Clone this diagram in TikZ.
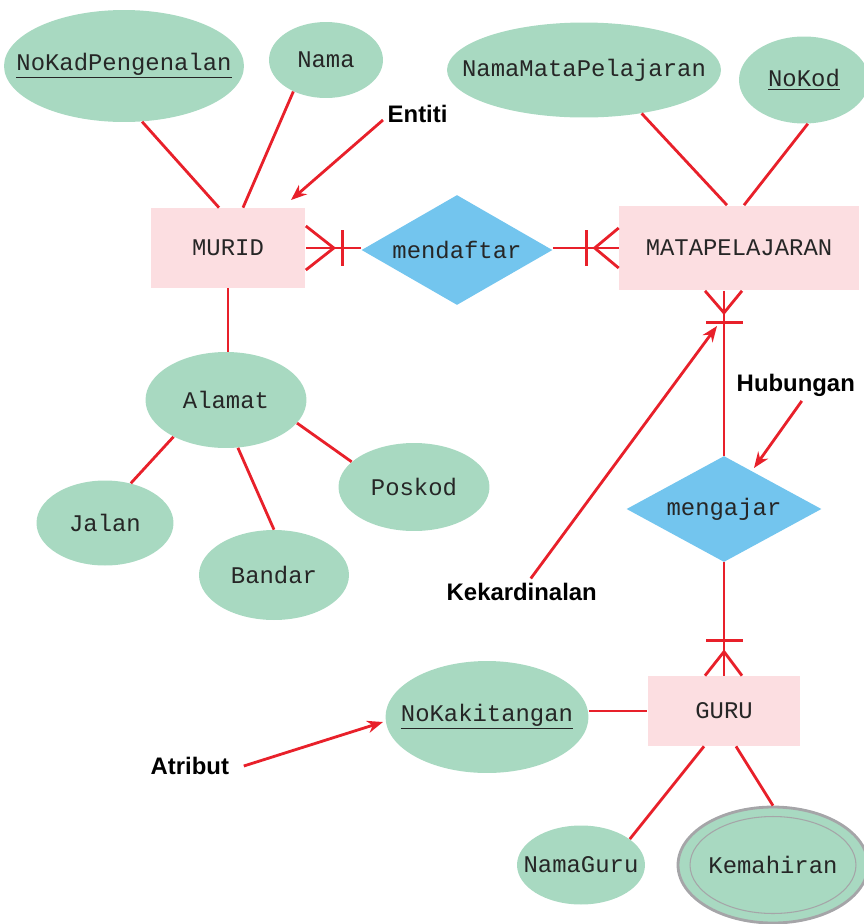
\documentclass[tikz,border=0pt]{standalone}
\usepackage{fontspec}
\setmainfont{Liberation Sans}
\setmonofont{Liberation Mono}
\usetikzlibrary{shapes.geometric,arrows.meta}

\definecolor{attrgreen}{RGB}{168,217,193}
\definecolor{entpink}{RGB}{252,222,225}
\definecolor{relblue}{RGB}{115,197,238}
\definecolor{linkred}{RGB}{232,32,42}
\definecolor{rimgray}{RGB}{165,165,168}

\tikzset{
  erfont/.style={font=\fontsize{13.6}{16}\selectfont\ttfamily, text=black!85},
  % shapes keep their given size, the name sits on top as a centred label
  attr/.style={ellipse, fill=attrgreen, inner sep=0pt, label={[erfont]center:#1}},
  entity/.style={rectangle, fill=entpink, inner sep=0pt, erfont},
  rel/.style={diamond, fill=relblue, inner sep=0pt, label={[erfont]center:#1}},
  link/.style={draw=linkred, line width=1.6pt},
  note/.style={font=\fontsize{13.6}{16}\selectfont\bfseries, inner sep=2.5pt, anchor=west},
  pointer/.style={link, -{Stealth[length=9pt,width=7pt]}},
}

\begin{document}
\begin{tikzpicture}[x=0.02cm, y=-0.02cm]
  \useasboundingbox (0,0) rectangle (864,924);

  % entities
  \node[entity, minimum width=3.1cm, minimum height=1.6cm] (murid) at (228,248) {MURID};
  \node[entity, minimum width=4.8cm, minimum height=1.7cm] (mata) at (739,248) {MATAPELAJARAN};
  \node[entity, minimum width=3.06cm, minimum height=1.4cm] (guru) at (724,711) {GURU};

  % relationships
  \node[rel=mendaftar, minimum width=3.82cm, minimum height=2.2cm] (mendaftar) at (457,250) {};
  \node[rel=mengajar, minimum width=3.9cm, minimum height=2.12cm] (mengajar) at (724,509) {};

  % attributes
  \node[attr=\underline{NoKadPengenalan}, minimum width=4.8cm, minimum height=2.24cm] (nokad) at (124,66) {};
  \node[attr=Nama, minimum width=2.28cm, minimum height=1.52cm] (nama) at (326,60) {};
  \node[attr=NamaMataPelajaran, minimum width=5.48cm, minimum height=1.9cm] (namamata) at (584,70) {};
  \node[attr=\underline{NoKod}, minimum width=2.6cm, minimum height=1.74cm] (nokod) at (804,80) {};
  \node[attr=Alamat, minimum width=3.22cm, minimum height=1.92cm] (alamat) at (226,400) {};
  \node[attr=Jalan, minimum width=2.74cm, minimum height=1.7cm] (jalan) at (105,523) {};
  \node[attr=Bandar, minimum width=3.0cm, minimum height=1.8cm] (bandar) at (274,575) {};
  \node[attr=Poskod, minimum width=3.02cm, minimum height=1.76cm] (poskod) at (414,487) {};
  \node[attr=\underline{NoKakitangan}, minimum width=4.06cm, minimum height=2.24cm] (nokak) at (487,717) {};
  \node[attr=NamaGuru, minimum width=2.56cm, minimum height=1.58cm] (namaguru) at (581,865) {};
  \node[attr=Kemahiran, draw=rimgray, line width=1.6pt, minimum width=3.8cm, minimum height=2.32cm] (kemahiran) at (773,865) {};
  \draw[rimgray, line width=0.6pt] (kemahiran.center) ellipse [x radius=1.66cm, y radius=0.97cm];

  % attribute links
  \draw[link] (nokad.-72) -- ([xshift=-0.18cm]murid.north);
  \draw[link] (nama.224) -- ([xshift=0.3cm]murid.north);
  \draw[link] (murid.south) -- (alamat.north -| murid.south);
  \draw[link] (alamat.215) -- (jalan.57);
  \draw[link] (alamat.-76) -- (bandar.north);
  \draw[link] (alamat.-18) -- (poskod.158);
  \draw[link] (namamata.-37) -- ([xshift=-0.24cm]mata.north);
  \draw[link] (nokod.-85) -- ([xshift=0.1cm]mata.north);
  \draw[link] (nokak.east |- guru.west) -- (guru.west);
  \draw[link] (namaguru.28) -- ([xshift=-0.4cm]guru.south);
  \draw[link] (kemahiran.north) -- ([xshift=0.24cm]guru.south);

  % relationship links with crow's feet
  \draw[link] (murid.east) -- (mendaftar.west |- murid.east);
  \draw[link] ([yshift=0.44cm]murid.east) -- ([xshift=0.56cm]murid.east) -- ([yshift=-0.44cm]murid.east);
  \draw[link] ([shift={(0.74cm,0.36cm)}]murid.east) -- ([shift={(0.74cm,-0.36cm)}]murid.east);

  \draw[link] (mendaftar.east |- mata.west) -- (mata.west);
  \draw[link] ([yshift=0.4cm]mata.west) -- ([xshift=-0.48cm]mata.west) -- ([yshift=-0.4cm]mata.west);
  \draw[link] ([shift={(-0.64cm,0.36cm)}]mata.west) -- ([shift={(-0.64cm,-0.36cm)}]mata.west);

  \coordinate (matafoot) at (mengajar.north |- mata.south);
  \draw[link] (matafoot) -- (mengajar.north);
  \draw[link] ([xshift=-0.38cm]matafoot) -- ([yshift=-0.44cm]matafoot) -- ([xshift=0.36cm]matafoot);
  \draw[link] ([shift={(-0.36cm,-0.64cm)}]matafoot) -- ([shift={(0.38cm,-0.64cm)}]matafoot);

  \draw[link] (mengajar.south) -- (guru.north);
  \draw[link] ([xshift=-0.38cm]guru.north) -- ([yshift=0.48cm]guru.north) -- ([xshift=0.36cm]guru.north);
  \draw[link] ([shift={(-0.36cm,0.7cm)}]guru.north) -- ([shift={(0.38cm,0.7cm)}]guru.north);

  % notes
  \node[note] (entiti) at (383,114) {Entiti};
  \node[note] (hubungan) at (732,385) {Hubungan};
  \node[note] (kekardinalan) at (442,592) {Kekardinalan};
  \node[note] (atribut) at (146,766) {Atribut};

  \coordinate (entititip) at (291,200);
  \coordinate (hubungantip) at (754,468);
  \coordinate (kektip) at (717,326);
  \coordinate (atributtip) at (383,722);

  \draw[pointer] ([yshift=-0.12cm]entiti.west) -- (entititip);
  \draw[pointer] ([xshift=0.12cm]hubungan.south) -- (hubungantip);
  \draw[pointer] ([xshift=0.18cm]kekardinalan.north) -- (kektip);
  \draw[pointer] ([xshift=0.2cm]atribut.east) -- (atributtip);
\end{tikzpicture}
\end{document}
